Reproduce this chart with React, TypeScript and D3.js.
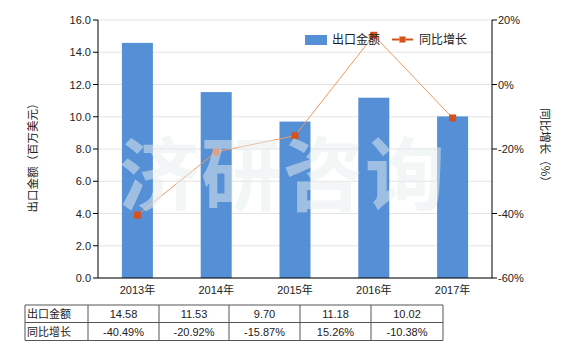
import React from "react";
import * as d3 from "d3";

const categories = ["2013年", "2014年", "2015年", "2016年", "2017年"];
const exportValues = [14.58, 11.53, 9.7, 11.18, 10.02];
const growthValues = [-40.49, -20.92, -15.87, 15.26, -10.38];
const leftTicks = [0, 2, 4, 6, 8, 10, 12, 14, 16];
const rightTicks = [-60, -40, -20, 0, 20];
const seriesNames = ["出口金额", "同比增长"];

const FONT = "'Liberation Sans', 'Noto Sans CJK SC', sans-serif";
const CJK = "'Noto Sans CJK SC', sans-serif";

export default function App() {
  const W = 580, H = 350;
  const left = 98, right = 492, top = 20, bottom = 278;
  const xc = d3.scaleBand<string>().domain(categories).range([left, right]);
  const yL = d3.scaleLinear().domain([0, 16]).range([bottom, top]);
  const yR = d3.scaleLinear().domain([-60, 20]).range([bottom, top]);
  const cx = (i: number) => xc(categories[i])! + xc.bandwidth() / 2;
  const line = d3.line<number>().x((_, i) => cx(i)).y((d) => yR(d));

  const colX = [25, 88, 159, 229, 300, 371, 443];
  const rowY = [305, 322.5, 340.5];
  const colCenters = colX.slice(1, -1).map((v, i) => (v + colX[i + 2]) / 2);

  return (
    <svg width={W} height={H} style={{ position: "absolute", left: 0, top: 0, fontFamily: FONT }}>
      <rect width={W} height={H} fill="#fff" />
      {leftTicks.map((t) => (
        <line key={"g" + t} x1={left} x2={right} y1={yL(t)} y2={yL(t)} stroke="#e4e4e4" />
      ))}
      {exportValues.map((v, i) => (
        <rect key={"b" + i} x={cx(i) - 15.5} width={31} y={yL(v)} height={bottom - yL(v)} fill="#5590d6" />
      ))}
      <path d={line(growthValues)!} fill="none" stroke="#ee9a62" strokeWidth={1} />
      {growthValues.map((v, i) => (
        <rect key={"m" + i} x={cx(i) - 3.5} y={yR(v) - 3.5} width={7} height={7} fill="#d4531c" />
      ))}
      {/* watermark */}
      <text x={283} y={204} textAnchor="middle" fontSize={80} fontWeight="bold" fill="#e8eeee" opacity={0.5} letterSpacing={2} style={{ fontFamily: CJK }}>济研咨询</text>
      {/* axes */}
      <line x1={left} x2={left} y1={top} y2={bottom} stroke="#000" />
      <line x1={right} x2={right} y1={top} y2={bottom} stroke="#000" />
      <line x1={left} x2={right} y1={bottom} y2={bottom} stroke="#000" />
      {leftTicks.map((t) => (
        <g key={"l" + t}>
          <line x1={left - 5} x2={left} y1={yL(t)} y2={yL(t)} stroke="#000" />
          <text x={left - 7} y={yL(t) + 4} textAnchor="end" fontSize={11} fill="#222">{t.toFixed(1)}</text>
        </g>
      ))}
      {rightTicks.map((t) => (
        <g key={"r" + t}>
          <line x1={right} x2={right + 5} y1={yR(t)} y2={yR(t)} stroke="#000" />
          <text x={right + 6} y={yR(t) + 4} textAnchor="start" fontSize={11} fill="#222">{t + "%"}</text>
        </g>
      ))}
      {categories.map((c, i) => (
        <text key={"x" + c} x={cx(i)} y={294} textAnchor="middle" fontSize={11} fill="#222">{c}</text>
      ))}
      <text transform="translate(37,155) rotate(-90)" textAnchor="middle" fontSize={11.5} fill="#222" style={{ fontFamily: CJK }}>出口金额（百万美元）</text>
      <text transform="translate(541,148) rotate(90)" textAnchor="middle" fontSize={11.5} fill="#222" style={{ fontFamily: CJK }}>同比增长（%）</text>
      {/* legend */}
      <rect x={305} y={35} width={22} height={10} fill="#5590d6" />
      <text x={332} y={44} fontSize={12} fill="#222" style={{ fontFamily: CJK }}>{seriesNames[0]}</text>
      <line x1={392} x2={413} y1={39.5} y2={39.5} stroke="#d4531c" strokeWidth={2} />
      <rect x={399.5} y={36.5} width={6} height={6} fill="#d4531c" stroke="#f0a070" strokeWidth={0.5} />
      <text x={419} y={44} fontSize={12} fill="#222" style={{ fontFamily: CJK }}>{seriesNames[1]}</text>
      {/* table */}
      <g stroke="#555" strokeWidth={1}>
        {rowY.map((y) => (
          <line key={"ty" + y} x1={colX[0]} x2={colX[colX.length - 1]} y1={y} y2={y} />
        ))}
        {colX.map((x0) => (
          <line key={"tx" + x0} x1={x0} x2={x0} y1={rowY[0]} y2={rowY[2]} />
        ))}
      </g>
      <text x={27} y={318} fontSize={11} fill="#222" style={{ fontFamily: CJK }}>{seriesNames[0]}</text>
      <text x={27} y={336} fontSize={11} fill="#222" style={{ fontFamily: CJK }}>{seriesNames[1]}</text>
      {exportValues.map((v, i) => (
        <text key={"tv" + i} x={colCenters[i]} y={318} textAnchor="middle" fontSize={11} fill="#222">{v.toFixed(2)}</text>
      ))}
      {growthValues.map((v, i) => (
        <text key={"tg" + i} x={colCenters[i]} y={336} textAnchor="middle" fontSize={11} fill="#222">{v.toFixed(2) + "%"}</text>
      ))}
    </svg>
  );
}
